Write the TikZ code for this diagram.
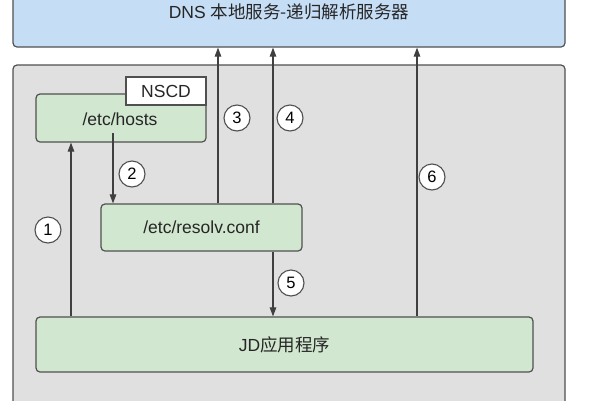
\documentclass[tikz,border=0pt]{standalone}
\usepackage{fontspec}
\setmainfont{Liberation Sans}
\newfontfamily\cjk{Noto Sans CJK SC}
\usetikzlibrary{arrows.meta}
\definecolor{dnsblue}{HTML}{C6DDF6}
\definecolor{boxgreen}{HTML}{D2E7CF}
\definecolor{panelgray}{HTML}{E0E0E0}
\definecolor{edge}{HTML}{505050}
\tikzset{
  txt/.style={font=\fontsize{17.5}{20}\selectfont, text=black!85},
  box/.style={draw=edge, line width=1.2pt, rounded corners=4pt, inner sep=0pt, txt},
  greenbox/.style={box, fill=boxgreen},
  flow/.style={draw=edge!80!black, line width=1.1pt, -{Triangle[length=9pt,width=6.5pt]}},
  num/.style={circle, draw=edge, line width=1.1pt, fill=white, minimum size=26pt, inner sep=0pt, font=\fontsize{16.5}{18}\selectfont},
}
\begin{document}
\begin{tikzpicture}[x=1pt,y=-1pt]
\useasboundingbox (0,0) rectangle (600,400);
\begin{scope}
\clip (0,0) rectangle (600,400);
\node[box, fill=dnsblue, minimum width=552pt, minimum height=67pt] (dns) at (289,13.5) {};
\node[box, fill=panelgray, minimum width=552pt, minimum height=355pt] (panel) at (289,242.5) {};
\end{scope}
\node[txt] (dnstext) at (289,12) {DNS {\cjk 本地服务-递归解析服务器}};
\node[greenbox, minimum width=170pt, minimum height=48pt] (hosts) at (121,118) {};
\node[txt] (hoststext) at (120,119) {/etc/hosts};
\node[draw=edge, line width=1.2pt, fill=white, minimum width=80pt, minimum height=28pt, inner sep=0pt, txt] (nscd) at (166,91) {NSCD};
\node[greenbox, minimum width=201pt, minimum height=47pt] (resolv) at (201.5,227.5) {/etc/resolv.conf};
\node[greenbox, minimum width=497pt, minimum height=55pt] (jd) at (284.5,344.5) {JD{\cjk 应用程序}};
\coordinate (c1) at (71,0);
\coordinate (s2) at (113,133);
\coordinate (c3) at (218,0);
\coordinate (c4) at (273,0);
\coordinate (c6) at (417,0);
\draw[flow] (jd.north -| c1) -- (hosts.south -| c1);
\draw[flow] (s2) -- (resolv.north -| s2);
\draw[flow] (resolv.north -| c3) -- (dns.south -| c3);
\draw[flow] (resolv.north -| c4) -- (dns.south -| c4);
\draw[flow] (resolv.south -| c4) -- (jd.north -| c4);
\draw[flow] (jd.north -| c6) -- (dns.south -| c6);
\node[num] (n1) at (48,230) {1};
\node[num] (n2) at (132,174) {2};
\node[num] (n3) at (237,118) {3};
\node[num] (n4) at (290,118) {4};
\node[num] (n5) at (291,283) {5};
\node[num] (n6) at (432,177) {6};
\end{tikzpicture}
\end{document}
